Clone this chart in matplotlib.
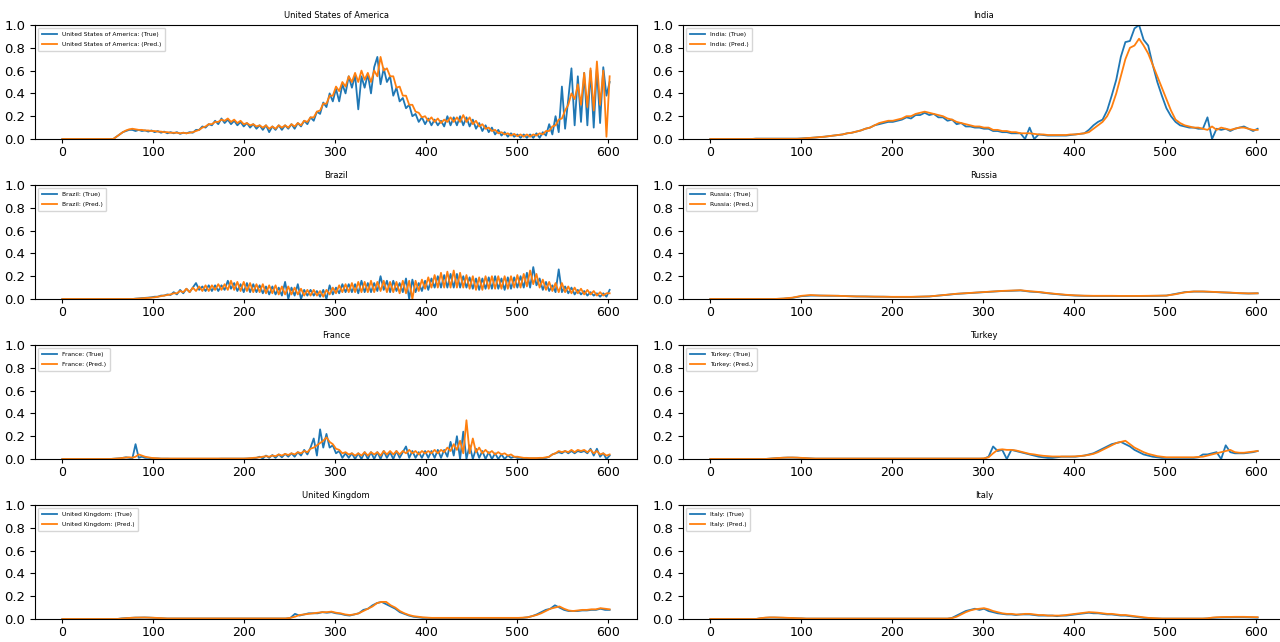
import numpy as np
import matplotlib
matplotlib.use("Agg")
import matplotlib.pyplot as plt

# values, scaled 0..1, days 0..602
usa_true = [0.0] * 16 + [
    0.0, 0.02, 0.04, 0.06, 0.07, 0.08,
    0.08, 0.07, 0.08, 0.07, 0.075, 0.065, 0.075, 0.06, 0.07, 0.055, 0.065, 0.05, 0.06, 0.05, 0.06, 0.045, 0.055, 0.05, 0.06, 0.055,
    0.08, 0.08, 0.11, 0.10, 0.13, 0.12, 0.16, 0.13, 0.18, 0.14, 0.17, 0.13, 0.16, 0.12, 0.15, 0.11, 0.14, 0.10, 0.13, 0.09,
    0.12, 0.08, 0.12, 0.06, 0.11, 0.08, 0.12, 0.08, 0.12, 0.09, 0.13, 0.09, 0.14, 0.11, 0.16, 0.13, 0.19, 0.16, 0.24, 0.22,
    0.32, 0.28, 0.40, 0.33, 0.44, 0.33, 0.48, 0.40, 0.55, 0.45, 0.56, 0.26, 0.55, 0.45, 0.57, 0.40, 0.63, 0.72, 0.48, 0.62,
    0.50, 0.55, 0.38, 0.45, 0.33, 0.36, 0.27, 0.30, 0.20, 0.22, 0.15, 0.19, 0.13, 0.18, 0.12, 0.17, 0.12, 0.16, 0.11, 0.20,
    0.12, 0.19, 0.12, 0.20, 0.12, 0.19, 0.11, 0.17, 0.09, 0.14, 0.07, 0.12, 0.06, 0.10, 0.04, 0.08, 0.03, 0.06, 0.02, 0.05,
    0.02, 0.04, 0.01, 0.04, 0.01, 0.04, 0.01, 0.05, 0.01, 0.06, 0.03, 0.13, 0.04, 0.20, 0.06, 0.46, 0.09, 0.35, 0.62, 0.12,
    0.55, 0.15, 0.58, 0.12, 0.60, 0.10, 0.62, 0.14, 0.63, 0.38, 0.50]
usa_pred = [0.0] * 16 + [
    0.0, 0.02, 0.04, 0.06, 0.075, 0.085,
    0.09, 0.085, 0.08, 0.08, 0.075, 0.075, 0.07, 0.07, 0.065, 0.065, 0.06, 0.06, 0.055, 0.055, 0.055, 0.05, 0.055, 0.05, 0.055, 0.06,
    0.07, 0.08, 0.10, 0.11, 0.13, 0.13, 0.15, 0.15, 0.17, 0.16, 0.18, 0.15, 0.17, 0.14, 0.16, 0.13, 0.14, 0.12, 0.13, 0.11,
    0.12, 0.10, 0.12, 0.09, 0.11, 0.09, 0.12, 0.10, 0.12, 0.10, 0.13, 0.11, 0.14, 0.12, 0.16, 0.15, 0.19, 0.19, 0.24, 0.25,
    0.31, 0.31, 0.38, 0.38, 0.46, 0.42, 0.50, 0.46, 0.55, 0.50, 0.58, 0.50, 0.60, 0.52, 0.58, 0.50, 0.60, 0.55, 0.72, 0.60,
    0.62, 0.55, 0.55, 0.45, 0.46, 0.38, 0.38, 0.30, 0.30, 0.24, 0.23, 0.19, 0.20, 0.16, 0.19, 0.15, 0.18, 0.14, 0.17, 0.15,
    0.19, 0.15, 0.19, 0.15, 0.21, 0.15, 0.19, 0.13, 0.16, 0.11, 0.13, 0.09, 0.10, 0.07, 0.08, 0.05, 0.06, 0.04, 0.05, 0.03,
    0.045, 0.025, 0.04, 0.02, 0.04, 0.02, 0.04, 0.03, 0.05, 0.04, 0.07, 0.07, 0.11, 0.12, 0.17, 0.18, 0.25, 0.30, 0.40, 0.35,
    0.48, 0.30, 0.58, 0.28, 0.62, 0.25, 0.68, 0.30, 0.60, 0.02, 0.55]

brazil_true = [0.0] * 23 + [
    0.003, 0.005, 0.008, 0.01, 0.012, 0.015, 0.02, 0.02, 0.03, 0.03, 0.04, 0.035, 0.06, 0.04, 0.08, 0.05, 0.09, 0.06, 0.10,
    0.14, 0.08, 0.11, 0.07, 0.12, 0.07, 0.12, 0.07, 0.12, 0.08, 0.16, 0.09, 0.14, 0.07, 0.13, 0.06, 0.14, 0.06, 0.13, 0.06,
    0.12, 0.05, 0.11, 0.04, 0.11, 0.04, 0.10, 0.03, 0.15, 0.0, 0.10, 0.03, 0.13, 0.0, 0.08, 0.03, 0.08, 0.03, 0.07, 0.02,
    0.08, 0.0, 0.12, 0.04, 0.10, 0.05, 0.13, 0.06, 0.13, 0.06, 0.13, 0.05, 0.16, 0.06, 0.14, 0.06, 0.14, 0.07, 0.20, 0.08,
    0.16, 0.06, 0.16, 0.07, 0.14, 0.06, 0.18, 0.0, 0.17, 0.06, 0.14, 0.07, 0.16, 0.08, 0.18, 0.10, 0.20, 0.10, 0.21, 0.10,
    0.22, 0.10, 0.22, 0.10, 0.20, 0.10, 0.19, 0.09, 0.18, 0.08, 0.18, 0.09, 0.19, 0.09, 0.20, 0.09, 0.18, 0.08, 0.19, 0.09,
    0.19, 0.10, 0.20, 0.10, 0.23, 0.10, 0.28, 0.12, 0.18, 0.08, 0.15, 0.07, 0.12, 0.06, 0.26, 0.06, 0.11, 0.05, 0.10, 0.04,
    0.08, 0.04, 0.07, 0.03, 0.06, 0.03, 0.05, 0.02, 0.05, 0.02, 0.08]
brazil_pred = [0.0] * 23 + [
    0.002, 0.004, 0.006, 0.008, 0.01, 0.012, 0.015, 0.02, 0.025, 0.03, 0.035, 0.04, 0.05, 0.05, 0.07, 0.06, 0.09, 0.06, 0.10,
    0.07, 0.11, 0.07, 0.12, 0.07, 0.12, 0.08, 0.13, 0.08, 0.13, 0.08, 0.16, 0.08, 0.15, 0.07, 0.15, 0.07, 0.14, 0.06, 0.13,
    0.06, 0.13, 0.05, 0.12, 0.05, 0.12, 0.04, 0.11, 0.04, 0.11, 0.04, 0.10, 0.04, 0.09, 0.03, 0.08, 0.03, 0.08, 0.03, 0.07,
    0.02, 0.08, 0.04, 0.10, 0.05, 0.12, 0.06, 0.13, 0.06, 0.14, 0.06, 0.15, 0.06, 0.15, 0.06, 0.16, 0.06, 0.15, 0.07, 0.16,
    0.06, 0.15, 0.06, 0.15, 0.05, 0.16, 0.05, 0.16, 0.0, 0.16, 0.07, 0.17, 0.09, 0.19, 0.10, 0.21, 0.10, 0.23, 0.10, 0.24,
    0.10, 0.25, 0.10, 0.23, 0.10, 0.21, 0.09, 0.20, 0.08, 0.19, 0.08, 0.20, 0.09, 0.20, 0.09, 0.20, 0.09, 0.20, 0.09, 0.20,
    0.10, 0.21, 0.10, 0.22, 0.11, 0.25, 0.13, 0.22, 0.10, 0.17, 0.08, 0.15, 0.07, 0.14, 0.06, 0.14, 0.06, 0.11, 0.05, 0.10,
    0.05, 0.09, 0.04, 0.08, 0.04, 0.07, 0.03, 0.06, 0.03, 0.05, 0.05]

france_true = [0.0] * 16 + [
    0.002, 0.004, 0.006, 0.01, 0.015, 0.01, 0.005,
    0.13, 0.01, 0.02, 0.01, 0.01, 0.005, 0.005, 0.005, 0.003, 0.003, 0.003] + [0.002] * 16 + [0.003] * 8 + [
    0.004, 0.006, 0.005, 0.01,
    0.02, 0.005, 0.03, 0.01, 0.035, 0.01, 0.04, 0.015, 0.045, 0.02, 0.05, 0.02, 0.06, 0.03, 0.08, 0.04, 0.10, 0.18, 0.03, 0.26,
    0.10, 0.22, 0.10, 0.12, 0.05, 0.07, 0.01, 0.05, 0.01, 0.05, 0.0, 0.05, 0.0, 0.06, 0.0, 0.06, 0.0, 0.06, 0.0, 0.07,
    0.01, 0.06, 0.0, 0.07, 0.01, 0.06, 0.11, 0.01, 0.07, 0.01, 0.06, 0.01, 0.07, 0.01, 0.07, 0.01, 0.08, 0.01, 0.08, 0.02,
    0.15, 0.03, 0.20, 0.0, 0.24, 0.0, 0.12, 0.0, 0.09, 0.01, 0.07, 0.0, 0.06, 0.0, 0.05, 0.0, 0.04, 0.0, 0.03, 0.01,
    0.02, 0.01, 0.01, 0.005, 0.005, 0.005, 0.005, 0.005, 0.005, 0.008, 0.01, 0.02, 0.04, 0.05, 0.06, 0.05, 0.07, 0.05, 0.07, 0.05,
    0.07, 0.06, 0.07, 0.05, 0.09, 0.03, 0.09, 0.02, 0.05, 0.0, 0.03]
france_pred = [0.0] * 16 + [
    0.002, 0.004, 0.006, 0.01, 0.012, 0.015, 0.012,
    0.02, 0.04, 0.03, 0.02, 0.015, 0.01, 0.008, 0.006] + [0.004] * 27 + [
    0.005, 0.007, 0.01, 0.012,
    0.015, 0.02, 0.025, 0.02, 0.03, 0.025, 0.04, 0.03, 0.045, 0.035, 0.05, 0.04, 0.06, 0.05, 0.07, 0.06, 0.09, 0.10, 0.12, 0.14,
    0.16, 0.19, 0.15, 0.13, 0.09, 0.08, 0.05, 0.06, 0.04, 0.05, 0.03, 0.05, 0.03, 0.06, 0.03, 0.06, 0.04, 0.06, 0.03, 0.07,
    0.04, 0.07, 0.04, 0.07, 0.04, 0.07, 0.05, 0.08, 0.05, 0.07, 0.04, 0.07, 0.05, 0.07, 0.05, 0.08, 0.05, 0.08, 0.06, 0.10,
    0.07, 0.13, 0.08, 0.16, 0.05, 0.34, 0.05, 0.18, 0.06, 0.10, 0.05, 0.08, 0.05, 0.07, 0.04, 0.06, 0.04, 0.05, 0.03, 0.04,
    0.02, 0.02, 0.015, 0.01, 0.01, 0.008, 0.008, 0.008, 0.01, 0.01, 0.015, 0.02, 0.04, 0.05, 0.07, 0.06, 0.07, 0.06, 0.08, 0.06,
    0.08, 0.07, 0.08, 0.06, 0.08, 0.05, 0.07, 0.04, 0.05, 0.03, 0.04]

india_true = [0.0] * 10 + [0.003] * 10 + [
    0.005, 0.008, 0.01, 0.013, 0.017, 0.02, 0.025, 0.03, 0.035, 0.04, 0.05, 0.055, 0.065, 0.075, 0.09, 0.10, 0.12, 0.13, 0.14, 0.15,
    0.15, 0.16, 0.17, 0.19, 0.18, 0.21, 0.21, 0.23, 0.21, 0.22, 0.19, 0.19, 0.16, 0.17, 0.13, 0.14, 0.11, 0.11, 0.10, 0.10,
    0.09, 0.09, 0.07, 0.07, 0.06, 0.06, 0.05, 0.05, 0.05, 0.0, 0.10, 0.0, 0.04, 0.035, 0.03, 0.03, 0.03, 0.03, 0.03, 0.035,
    0.04, 0.045, 0.05, 0.08, 0.12, 0.15, 0.17, 0.25, 0.38, 0.52, 0.72, 0.85, 0.86, 0.97, 1.0, 0.87, 0.82, 0.65, 0.50, 0.38,
    0.27, 0.20, 0.15, 0.12, 0.11, 0.10, 0.10, 0.09, 0.09, 0.19, 0.0, 0.09, 0.08, 0.09, 0.07, 0.09, 0.10, 0.11, 0.09, 0.07, 0.09]
india_pred = [0.0] * 10 + [0.002] * 10 + [
    0.004, 0.007, 0.01, 0.013, 0.017, 0.02, 0.025, 0.03, 0.035, 0.04, 0.05, 0.055, 0.065, 0.075, 0.09, 0.10, 0.12, 0.14, 0.15, 0.16,
    0.16, 0.17, 0.18, 0.20, 0.20, 0.22, 0.23, 0.24, 0.23, 0.22, 0.21, 0.20, 0.18, 0.17, 0.15, 0.14, 0.13, 0.12, 0.11, 0.11,
    0.10, 0.10, 0.08, 0.08, 0.07, 0.07, 0.06, 0.06, 0.05, 0.05, 0.05, 0.045, 0.04, 0.04, 0.035, 0.035, 0.035, 0.035, 0.035, 0.04,
    0.04, 0.045, 0.05, 0.06, 0.09, 0.12, 0.15, 0.20, 0.28, 0.40, 0.55, 0.70, 0.80, 0.82, 0.88, 0.82, 0.75, 0.65, 0.55, 0.45,
    0.35, 0.25, 0.17, 0.14, 0.12, 0.11, 0.10, 0.10, 0.09, 0.08, 0.11, 0.08, 0.10, 0.09, 0.08, 0.09, 0.10, 0.10, 0.09, 0.08, 0.08]

russia_true = [0.0] * 8 + [
    0.003, 0.01, 0.025, 0.03, 0.03, 0.028, 0.028, 0.025, 0.022, 0.022, 0.02, 0.02, 0.018, 0.018, 0.018, 0.02, 0.022,
    0.03, 0.037, 0.045, 0.05, 0.055, 0.06, 0.065, 0.07, 0.072, 0.075, 0.065, 0.06, 0.05, 0.042, 0.035, 0.03, 0.028,
    0.027, 0.027, 0.027, 0.026, 0.026, 0.026, 0.027, 0.028, 0.03, 0.045, 0.06, 0.065, 0.065, 0.062, 0.058, 0.055,
    0.05, 0.048, 0.05]
russia_pred = [0.0] * 8 + [
    0.004, 0.012, 0.028, 0.035, 0.03, 0.03, 0.028, 0.025, 0.023, 0.022, 0.021, 0.02, 0.019, 0.019, 0.019, 0.021, 0.023,
    0.03, 0.038, 0.046, 0.051, 0.056, 0.061, 0.066, 0.071, 0.074, 0.077, 0.068, 0.062, 0.052, 0.044, 0.037, 0.032, 0.029,
    0.028, 0.028, 0.028, 0.027, 0.027, 0.027, 0.028, 0.029, 0.03, 0.042, 0.058, 0.066, 0.066, 0.063, 0.059, 0.056,
    0.052, 0.049, 0.05]

turkey_true = [0.0] * 13 + [
    0.003, 0.006, 0.009, 0.011, 0.012, 0.012, 0.011, 0.009, 0.007, 0.005] + [0.003] * 38 + [
    0.02, 0.11, 0.07, 0.08, 0.0, 0.08, 0.07, 0.06, 0.05, 0.04, 0.03, 0.02, 0.015, 0.01, 0.01, 0.015, 0.02, 0.02, 0.02, 0.02,
    0.025, 0.03, 0.04, 0.05, 0.07, 0.09, 0.11, 0.13, 0.14, 0.15, 0.13, 0.11, 0.08, 0.06, 0.04, 0.03, 0.02, 0.015, 0.01, 0.01] + [0.01] * 6 + [
    0.015, 0.04, 0.04, 0.05, 0.06, 0.0, 0.12, 0.06, 0.05, 0.05, 0.05, 0.055, 0.06, 0.07]
turkey_pred = [0.0] * 13 + [
    0.003, 0.006, 0.009, 0.011, 0.013, 0.013, 0.012, 0.01, 0.008, 0.005] + [0.004] * 37 + [
    0.006, 0.015, 0.05, 0.08, 0.085, 0.08, 0.08, 0.075, 0.065, 0.055, 0.045, 0.04, 0.033, 0.028, 0.025, 0.022, 0.022, 0.022, 0.022, 0.022,
    0.023, 0.026, 0.03, 0.036, 0.045, 0.06, 0.08, 0.10, 0.12, 0.14, 0.15, 0.16, 0.13, 0.10, 0.08, 0.06, 0.045, 0.035, 0.025, 0.02,
    0.015] + [0.015] * 6 + [
    0.018, 0.02, 0.03, 0.04, 0.05, 0.06, 0.07, 0.08, 0.06, 0.055, 0.055, 0.06, 0.065, 0.07]

uk_true = [0.0] * 13 + [
    0.005, 0.008, 0.01, 0.012, 0.012, 0.013, 0.012, 0.01, 0.008, 0.006] + [0.004] * 27 + [
    0.01, 0.045, 0.03, 0.04, 0.05, 0.05, 0.05, 0.06, 0.055, 0.06, 0.05, 0.045, 0.035, 0.03, 0.04, 0.05, 0.08, 0.09, 0.12, 0.14,
    0.15, 0.13, 0.11, 0.09, 0.06, 0.045, 0.03, 0.02, 0.015, 0.01, 0.01] + [0.008] * 19 + [
    0.008, 0.01, 0.015, 0.025, 0.04, 0.06, 0.08, 0.09, 0.12, 0.10, 0.08, 0.07, 0.07, 0.07, 0.075, 0.075, 0.08, 0.08, 0.09, 0.08, 0.08]
uk_pred = [0.0] * 13 + [
    0.004, 0.007, 0.01, 0.012, 0.013, 0.013, 0.012, 0.011, 0.009, 0.007] + [0.005] * 27 + [
    0.01, 0.02, 0.035, 0.04, 0.045, 0.05, 0.055, 0.06, 0.06, 0.065, 0.055, 0.05, 0.04, 0.035, 0.04, 0.05, 0.07, 0.09, 0.11, 0.14,
    0.15, 0.15, 0.12, 0.10, 0.07, 0.05, 0.035, 0.025, 0.02, 0.015, 0.012] + [0.01] * 19 + [
    0.01, 0.012, 0.015, 0.025, 0.035, 0.05, 0.07, 0.09, 0.10, 0.11, 0.09, 0.075, 0.07, 0.075, 0.08, 0.08, 0.085, 0.085, 0.095, 0.09, 0.085]

italy_true = [0.0] * 11 + [
    0.006, 0.01, 0.012, 0.012, 0.011, 0.01, 0.009, 0.008, 0.006, 0.005] + [0.003] * 32 + [
    0.01, 0.03, 0.05, 0.07, 0.08, 0.09, 0.08, 0.09, 0.07, 0.06, 0.05, 0.045, 0.04, 0.04, 0.035, 0.04, 0.04, 0.04, 0.035, 0.03,
    0.03, 0.03, 0.03, 0.025, 0.03, 0.03, 0.035, 0.04, 0.045, 0.05, 0.055, 0.05, 0.05, 0.045, 0.04, 0.04, 0.035, 0.03, 0.03, 0.025,
    0.02, 0.015, 0.01, 0.008, 0.005, 0.004] + [0.003] * 10 + [
    0.005, 0.01, 0.012, 0.013, 0.014, 0.014, 0.015, 0.015, 0.015, 0.014, 0.013, 0.012]
italy_pred = [0.0] * 11 + [
    0.007, 0.012, 0.014, 0.014, 0.013, 0.012, 0.01, 0.009, 0.007, 0.006] + [0.004] * 32 + [
    0.008, 0.02, 0.04, 0.06, 0.075, 0.085, 0.09, 0.095, 0.085, 0.07, 0.06, 0.05, 0.045, 0.045, 0.04, 0.04, 0.045, 0.045, 0.04, 0.035,
    0.035, 0.03, 0.03, 0.03, 0.03, 0.035, 0.04, 0.045, 0.05, 0.055, 0.06, 0.058, 0.055, 0.05, 0.045, 0.045, 0.04, 0.035, 0.035, 0.03,
    0.025, 0.02, 0.015, 0.01, 0.008, 0.006] + [0.004] * 10 + [
    0.006, 0.012, 0.015, 0.017, 0.018, 0.018, 0.019, 0.019, 0.019, 0.018, 0.017, 0.016]

countries = ["United States of America", "India", "Brazil", "Russia",
             "France", "Turkey", "United Kingdom", "Italy"]
true_series = [usa_true, india_true, brazil_true, russia_true,
               france_true, turkey_true, uk_true, italy_true]
pred_series = [usa_pred, india_pred, brazil_pred, russia_pred,
               france_pred, turkey_pred, uk_pred, italy_pred]
last_day = 602

fig = plt.figure(figsize=(12.8, 6.42), dpi=100)

# axes boxes in pixels (left, top), measured on the reference
lefts = [35, 683]
tops = [25, 185, 345, 505]
W, H = 602, 114

for i, name in enumerate(countries):
    r, c = divmod(i, 2)
    ax = fig.add_axes([lefts[c] / 1280, 1 - (tops[r] + H) / 642, W / 1280, H / 642])
    yt = true_series[i]
    yp = pred_series[i]
    ax.plot(np.linspace(0, last_day, len(yt)), yt, color="#1f77b4", lw=1.3, label=name + ": (True)")
    ax.plot(np.linspace(0, last_day, len(yp)), yp, color="#ff7f0e", lw=1.3, label=name + ": (Pred.)")
    ax.set_ylim(0, 1)
    ax.set_yticks([0.0, 0.2, 0.4, 0.6, 0.8, 1.0])
    ax.set_xticks([0, 100, 200, 300, 400, 500, 600])
    ax.tick_params(labelsize=9.5)
    ax.tick_params(axis="x", length=3, pad=2, labelsize=9)
    ax.set_title(name, fontsize=6, pad=5)
    ax.legend(loc="upper left", fontsize=4.3, handlelength=2.6, labelspacing=0.9, borderpad=0.6)

fig.savefig("out.png", dpi=100)
